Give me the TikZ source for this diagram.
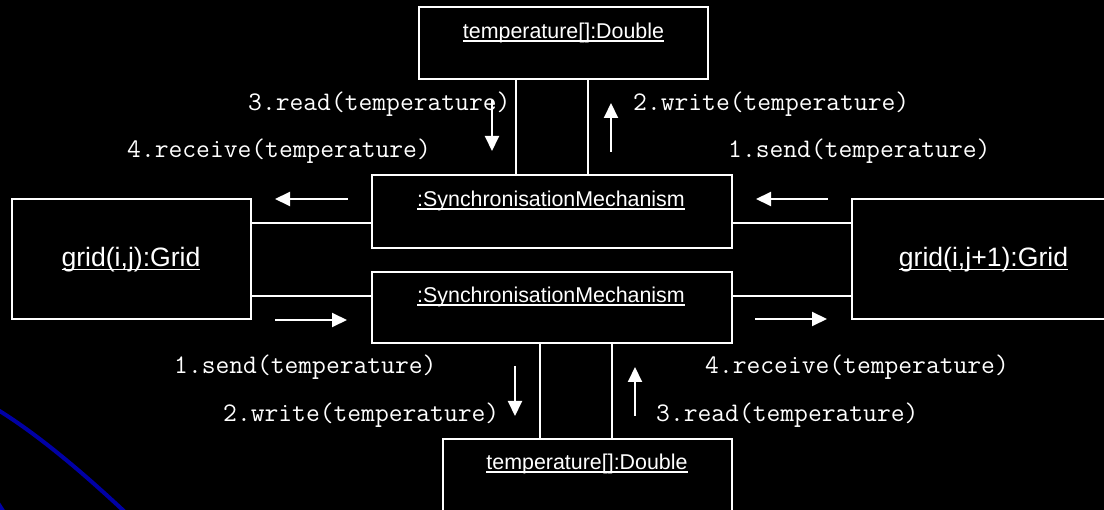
\documentclass[tikz,border=0pt]{standalone}
\usepackage{fontspec}
\setmainfont{Liberation Sans}
\usetikzlibrary{arrows.meta}

% underlined text with a thin rule just under the baseline
\newsavebox\ulbox
\newcommand{\uln}[1]{\sbox\ulbox{#1}\rlap{\rule[-0.13em]{\wd\ulbox}{0.07em}}\usebox\ulbox}

\definecolor{arcblue}{RGB}{0,0,165}

\tikzset{
  objbox/.style={draw=white, line width=2pt, fill=black, rectangle,
                 inner sep=0pt, outer sep=0pt},
  objname/.style={text=white, inner sep=0pt, anchor=base,
                  font=\fontsize{21.4}{25}\selectfont},
  gridname/.style={text=white, inner sep=0pt, anchor=base,
                   font=\fontsize{26.6}{30}\selectfont},
  msg/.style={text=white, inner sep=0pt, anchor=base west,
              font=\ttfamily\fontsize{26.8}{30}\selectfont},
  link/.style={draw=white, line width=2pt},
  flow/.style={draw=white, line width=2pt,
               -{Triangle[width=14pt,length=15pt]}},
}

\begin{document}
\begin{tikzpicture}[x=1pt, y=-1pt]
  \useasboundingbox (0,0) rectangle (1104,510);
  \fill[black] (0,0) rectangle (1104,510);
  \clip (0,0) rectangle (1104,510);

  % decorative arcs in the lower left corner
  \draw[arcblue, line width=4pt] (-2,410) .. controls (45,439) and (95,484) .. (126,513);
  \draw[arcblue, line width=4pt] (-4,500) -- (5,514);

  % object boxes
  \node[objbox, minimum width=289pt, minimum height=72pt] (tempTop) at (563.5,43) {};
  \node[objbox, minimum width=360pt, minimum height=73pt] (syncTop) at (552,211.5) {};
  \node[objbox, minimum width=360pt, minimum height=71pt] (syncBot) at (552,307.5) {};
  \node[objbox, minimum width=289pt, minimum height=80pt] (tempBot) at (587.5,479) {};
  \node[objbox, minimum width=239pt, minimum height=120pt] (gridL) at (131.5,259) {};
  \node[objbox, minimum width=258pt, minimum height=120pt] (gridR) at (981,259) {};

  % object names
  \node[objname] (tempTopName) at (563.5,39) {\uln{temperature[]:Double}};
  \node[objname] (syncTopName) at (551,207) {\uln{:SynchronisationMechanism}};
  \node[objname] (syncBotName) at (551,303) {\uln{:SynchronisationMechanism}};
  \node[objname] (tempBotName) at (587,470) {\uln{temperature[]:Double}};
  \node[gridname] (gridLName) at (131,267) {\uln{grid(i,j):Grid}};
  \node[gridname] (gridRName) at (983.5,267) {\uln{grid(i,j+1):Grid}};

  % links between the objects
  \draw[link] (syncTop.north -| 516,0) -- (tempTop.south -| 516,0);
  \draw[link] (syncTop.north -| 588,0) -- (tempTop.south -| 588,0);
  \draw[link] (syncBot.south -| 540,0) -- (tempBot.north -| 540,0);
  \draw[link] (syncBot.south -| 612,0) -- (tempBot.north -| 612,0);
  \draw[link] (gridL.east |- 0,223) -- (syncTop.west |- 0,223);
  \draw[link] (gridL.east |- 0,296) -- (syncBot.west |- 0,296);
  \draw[link] (gridR.west |- 0,223) -- (syncTop.east |- 0,223);
  \draw[link] (gridR.west |- 0,296) -- (syncBot.east |- 0,296);

  % message direction arrows
  \draw[flow] (348,199) -- (275,199);
  \draw[flow] (275,320) -- (347,320);
  \draw[flow] (828,199) -- (756,199);
  \draw[flow] (755,319) -- (827,319);
  \draw[flow] (492,100) -- (492,151);
  \draw[flow] (611,152) -- (611,103);
  \draw[flow] (515,366) -- (515,416);
  \draw[flow] (635,416) -- (635,367);

  % messages
  \node[msg] (mRead1)    at (248,111) {3.read(temperature)};
  \node[msg] (mWrite1)   at (633,111) {2.write(temperature)};
  \node[msg] (mRecv1)    at (127,158) {4.receive(temperature)};
  \node[msg] (mSend1)    at (728,158) {1.send(temperature)};
  \node[msg] (mSend2)    at (174,374) {1.send(temperature)};
  \node[msg] (mRecv2)    at (705,374) {4.receive(temperature)};
  \node[msg] (mWrite2)   at (223,422) {2.write(temperature)};
  \node[msg] (mRead2)    at (656,422) {3.read(temperature)};
\end{tikzpicture}
\end{document}
